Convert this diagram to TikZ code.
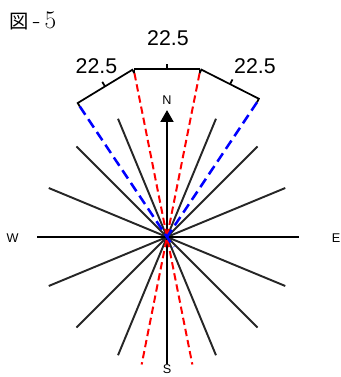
\documentclass[tikz,border=0pt]{standalone}
\usepackage{fontspec}
\setsansfont{Liberation Sans}
\newfontfamily\cjk{Noto Sans CJK JP}
\usepackage{tikz}
\usetikzlibrary{arrows.meta,calc}

\begin{document}
\begin{tikzpicture}[>=Stealth,x=0.75pt,y=0.75pt,
  ray/.style={line width=1.45pt,black!85},
  axis/.style={line width=2.1pt},
  redray/.style={red,line width=1.5pt,dash pattern=on 5.5pt off 3pt},
  blueray/.style={blue,line width=1.9pt,dash pattern=on 7.5pt off 4pt},
  span/.style={line width=1.3pt},
  dir/.style={font=\sffamily\fontsize{9.5}{10}\selectfont},
  deg/.style={font=\sffamily\fontsize{16}{18}\selectfont}]
\useasboundingbox (0,0) rectangle (340,377);
\coordinate (o) at (167,140);
% 16-point rose
\foreach \a in {22.5,45,67.5,112.5,135,157.5,202.5,225,247.5,292.5,315,337.5}
  \draw[ray] (o) -- ++(\a:128);
% main axes
\draw[axis] ($(o)+(180:130)$) -- ($(o)+(0:132)$);
\draw[axis,-{Triangle[length=9pt,width=9.5pt]}] ($(o)+(270:127)$) -- ($(o)+(90:127)$);
% red sector edges
\coordinate (rl) at ($(o)+(101.25:167)$);
\coordinate (rr) at ($(o)+(78.75:167)$);
\draw[redray] (rl) -- ($(o)+(281.25:130)$);
\draw[redray] (rr) -- ($(o)+(258.75:130)$);
% blue sector edges
\coordinate (bl) at ($(o)+(123.75:157)$);
\coordinate (br) at ($(o)+(56.25:162)$);
\draw[blueray] (bl) -- ($(o)+(303.75:12)$);
\draw[blueray] (br) -- (o);
% spans with end and middle ticks
\foreach \p/\q in {bl/rl,rl/rr,rr/br}
  \draw[span] (\p) -- ($(\p)!3pt!90:(\q)$) -- ($(\q)!3pt!-90:(\p)$) -- (\q)
    ($($(\p)!0.5!(\q)$)!3pt!90:(\q)$) -- ($($(\p)!0.5!(\q)$)!7pt!90:(\q)$);
\node[deg] (dl) at (96.5,311) {22.5};
\node[deg] (dm) at (168,339) {22.5};
\node[deg] (dr) at (255,311) {22.5};
% compass letters
\node[dir] (n) at (167,277) {N};
\node[dir] (s) at (167,7.5) {S};
\node[dir] (w) at (12.5,139) {W};
\node[dir] (e) at (336,139) {E};
% title
\node[anchor=west,inner sep=0pt,font=\fontsize{19}{20}\selectfont] (title) at (9,356) {{\cjk\fontsize{14.5}{16}\selectfont 図}\,-\,5};
\end{tikzpicture}
\end{document}
